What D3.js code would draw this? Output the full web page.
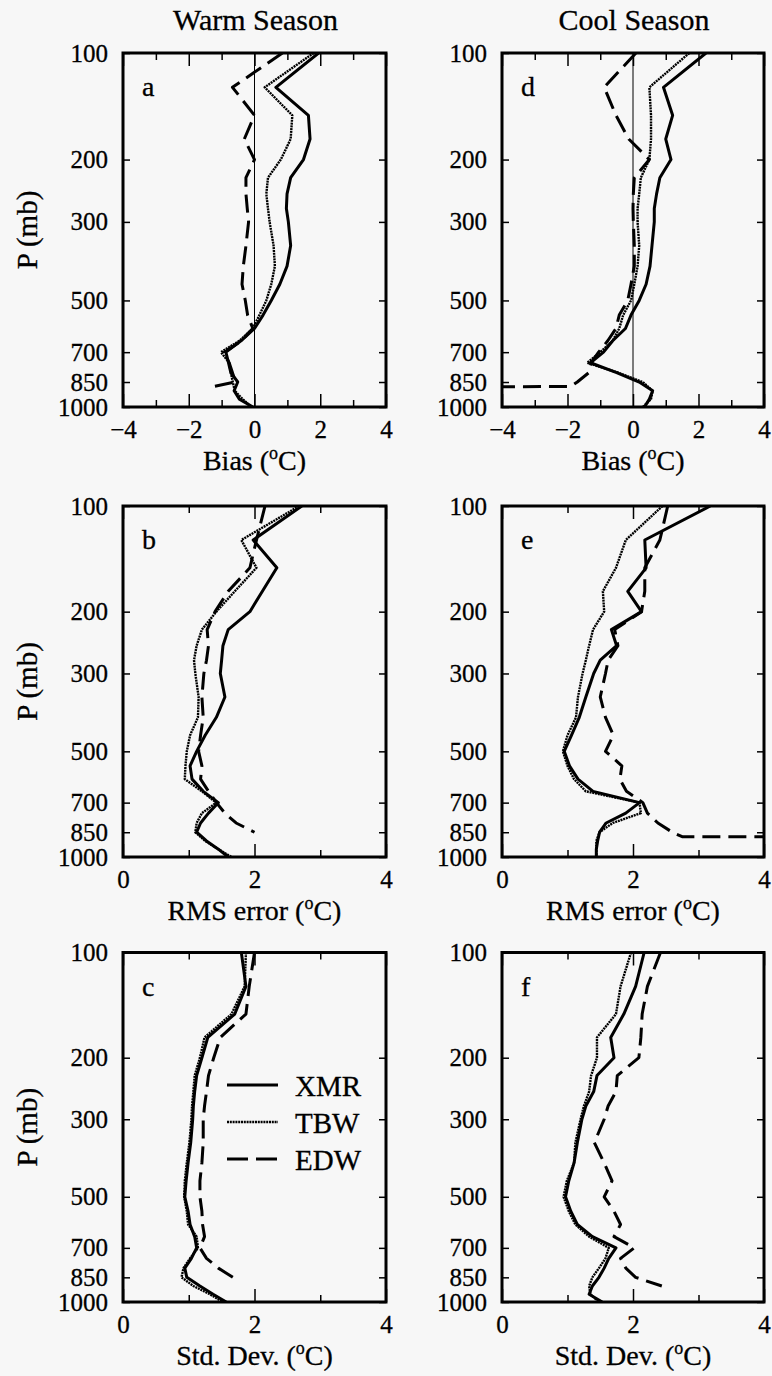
<!DOCTYPE html>
<html><head><meta charset="utf-8">
<script src="https://cdn.jsdelivr.net/npm/d3@7"></script>
<style>
html,body{margin:0;padding:0;background:#f7f7f7;}
svg{display:block;}
text{font-family:"Liberation Serif","Times New Roman",serif;fill:#000;stroke:#000;stroke-width:0.3px;}
</style></head>
<body>
<svg id="chart" width="772" height="1376"></svg>
<script>
// ---------------- data ----------------
const levels = [100,125,150,175,200,225,250,275,300,350,400,450,500,550,600,650,700,750,800,850,875,900,950,1000];
const pTicks = [100,200,300,500,700,850,1000];
const seriesNames = ["XMR","TBW","EDW"];
const columnTitles = ["Warm Season","Cool Season"];
const xLabels = ["Bias","RMS error","Std. Dev."];
const panelLetters = ["a","b","c","d","e","f"];

// (a) Warm season bias
const aXMR = [1.95,0.65,1.64,1.69,1.49,1.1,0.99,0.97,1.03,1.1,0.99,0.77,0.51,0.26,0,-0.41,-0.87,-0.79,-0.72,-0.51,null,-0.62,-0.46,-0.05];
const aTBW = [1.8,0.31,1.15,1.1,0.8,0.41,0.36,0.41,0.46,0.58,0.62,0.51,0.36,0.15,-0.05,-0.46,-1.02,-0.77,-0.72,-0.66,null,-0.6,-0.36,-0.1];
const aEDW = [0.85,-0.67,0,-0.31,0,-0.26,-0.26,-0.22,-0.18,-0.26,-0.34,-0.38,-0.28,-0.21,-0.05,-0.4,-0.92,-0.77,-0.67,-0.58,-1.25,null,null,null];
// (b) Warm season RMS error
const bXMR = [2.72,1.98,2.34,2.12,1.93,1.6,1.52,1.5,1.48,1.55,1.42,1.25,1.12,1.02,1.05,1.22,1.45,1.3,1.18,1.12,null,1.27,1.45,1.6];
const bTBW = [2.68,1.8,2.03,1.7,1.42,1.2,1.12,1.08,1.1,1.15,1.14,1.02,0.97,0.95,0.94,1.2,1.42,1.2,1.12,1.1,null,1.25,1.45,1.65];
const bEDW = [2.16,2.03,1.93,1.6,1.4,1.28,1.3,1.27,1.23,1.2,1.22,1.18,1.15,1.2,1.18,1.3,1.42,1.55,1.72,2.0,null,null,null,null];
// (c) Warm season std. dev.
const cXMR = [1.8,1.87,1.7,1.29,1.2,1.12,1.09,1.07,1.06,1.03,0.99,0.96,0.94,0.99,1.02,1.09,1.12,1.04,0.94,0.97,null,1.17,1.37,1.57];
const cTBW = [1.87,1.85,1.65,1.24,1.17,1.09,1.07,1.05,1.04,1.01,0.97,0.94,0.93,0.97,0.99,1.12,1.14,1.02,0.92,0.89,null,1.07,1.32,1.52];
const cEDW = [2.0,1.92,1.87,1.48,1.38,1.3,1.27,1.24,1.22,1.22,1.2,1.17,1.17,1.2,1.21,1.24,1.17,1.27,1.45,1.67,null,null,null,null];
// (d) Cool season bias
const dXMR = [2.23,0.93,1.21,1.0,1.16,0.82,0.72,0.65,0.65,0.58,0.52,0.4,0.19,-0.06,-0.23,-0.62,-0.9,-1.3,-0.5,0.19,null,0.6,0.5,0.35];
const dTBW = [1.72,0.5,0.55,0.55,0.5,0.24,0.19,0.14,0.14,0.19,0.14,0.04,-0.06,-0.3,-0.42,-0.62,-1.0,-1.4,-0.45,0.3,null,0.6,0.55,0.3];
const dEDW = [0.09,-0.88,-0.52,-0.13,0.5,0.04,0.01,0,0.01,0.04,0.04,-0.06,-0.16,-0.42,-0.52,-0.77,-1.05,-1.28,-1.35,-1.7,-1.9,-40,null,null];
// (e) Cool season RMS error
const eXMR = [3.18,2.18,2.2,1.92,2.13,1.67,1.75,1.5,1.4,1.28,1.18,1.06,0.95,1.03,1.16,1.39,2.1,1.89,1.59,1.49,null,1.46,1.44,1.44];
const eTBW = [2.45,1.89,1.74,1.54,1.56,1.39,1.33,1.28,1.23,1.16,1.13,1.0,0.93,1.0,1.1,1.28,2.1,2.12,1.69,1.49,null,1.44,1.44,1.44];
const eEDW = [2.53,2.41,2.18,2.18,2.13,1.72,1.77,1.62,1.58,1.5,1.58,1.7,1.58,1.83,1.8,1.9,2.15,2.22,2.38,2.6,2.75,40,null,null];
// (f) Cool season std. dev.
const fXMR = [2.17,2.04,1.86,1.66,1.71,1.45,1.4,1.28,1.22,1.15,1.1,1.02,0.97,1.05,1.15,1.38,1.74,1.63,1.56,1.48,null,1.38,1.33,1.53];
const fTBW = [1.97,1.81,1.74,1.45,1.45,1.36,1.33,1.25,1.2,1.12,1.1,0.99,0.94,1.02,1.12,1.33,1.63,1.58,1.48,1.38,null,1.33,1.35,1.48];
const fEDW = [2.42,2.22,2.14,2.12,2.09,1.76,1.74,1.62,1.56,1.41,1.56,1.68,1.56,1.71,1.81,1.71,2.02,1.81,1.89,2.04,null,2.44,null,null];

const biasDomain = [-4,4], biasTicks = [-4,-2,0,2,4], biasMinor = [-3,-1,1,3];
const errDomain = [0,4], errTicks = [0,2,4], errMinor = [1,3];

// ---------------- layout ----------------
const colX = [[123,386],[502,764]];
const rowY = [[53,407],[506,857],[952.5,1302]];
const styles = {
  XMR:{dash:null, w:3},
  TBW:{dash:"2,0.8", w:2.4},
  EDW:{dash:"18,8", w:3}
};

const svg = d3.select("#chart");
const defs = svg.append("defs");

const panels = [
  {col:0,row:0,kind:0,data:[aXMR,aTBW,aEDW]},
  {col:0,row:1,kind:1,data:[bXMR,bTBW,bEDW]},
  {col:0,row:2,kind:2,data:[cXMR,cTBW,cEDW]},
  {col:1,row:0,kind:0,data:[dXMR,dTBW,dEDW]},
  {col:1,row:1,kind:1,data:[eXMR,eTBW,eEDW]},
  {col:1,row:2,kind:2,data:[fXMR,fTBW,fEDW]}
];

// column titles
columnTitles.forEach((t,i)=>{
  svg.append("text").attr("x",(colX[i][0]+colX[i][1])/2 + 1).attr("y",30)
    .attr("text-anchor","middle").attr("font-size",30).text(t);
});

panels.forEach((pn,idx)=>{
  const [x0,x1] = colX[pn.col], [y0,y1] = rowY[pn.row];
  const isBias = pn.kind===0;
  const x = d3.scaleLinear().domain(isBias?biasDomain:errDomain).range([x0,x1]);
  const y = d3.scaleLog().domain([100,1000]).range([y0,y1]);
  const g = svg.append("g");
  const cid = "clip"+idx;
  defs.append("clipPath").attr("id",cid).append("rect")
    .attr("x",x0).attr("y",y0).attr("width",x1-x0).attr("height",y1-y0);

  const major = isBias?biasTicks:errTicks, minor = isBias?biasMinor:errMinor;
  const fmt = d3.format("d");
  g.append("g").attr("transform",`translate(0,${y1})`)
    .call(d3.axisBottom(x).tickValues(major).tickSize(-13).tickPadding(13).tickFormat(fmt));
  g.append("g").attr("transform",`translate(0,${y1})`)
    .call(d3.axisBottom(x).tickValues(minor).tickSize(-7).tickFormat(""));
  g.append("g").attr("transform",`translate(0,${y0})`)
    .call(d3.axisTop(x).tickValues(major).tickSize(-13).tickFormat(""));
  g.append("g").attr("transform",`translate(0,${y0})`)
    .call(d3.axisTop(x).tickValues(minor).tickSize(-7).tickFormat(""));
  g.append("g").attr("transform",`translate(${x0},0)`)
    .call(d3.axisLeft(y).tickValues(pTicks).tickSize(-7).tickPadding(15).tickFormat(d=>String(d)));
  g.append("g").attr("transform",`translate(${x1},0)`)
    .call(d3.axisRight(y).tickValues(pTicks).tickSize(-7).tickFormat(""));
  g.selectAll(".domain").remove();
  g.selectAll(".tick line").attr("stroke","#000").attr("stroke-width",1.5);
  g.selectAll(".tick text").attr("font-family","Liberation Serif").attr("font-size",25).attr("fill","#000");
  g.selectAll("g").attr("font-family",null).attr("font-size",null);

  if (isBias) {
    g.append("line").attr("x1",x(0)).attr("x2",x(0)).attr("y1",y0).attr("y2",y1)
      .attr("stroke","#000").attr("stroke-width",1);
  }

  const line = d3.line().x(d=>x(d.v)).y(d=>y(d.p));
  pn.data.forEach((vals,si)=>{
    const pts = levels.map((p,i)=>({p:p,v:vals[i]})).filter(d=>d.v!==null);
    const st = styles[seriesNames[si]];
    g.append("path").datum(pts).attr("d",line)
      .attr("clip-path",`url(#${cid})`)
      .attr("fill","none").attr("stroke","#000")
      .attr("stroke-width",st.w).attr("stroke-linejoin","round")
      .attr("stroke-dasharray",st.dash);
  });

  g.append("rect").attr("x",x0).attr("y",y0).attr("width",x1-x0).attr("height",y1-y0)
    .attr("fill","none").attr("stroke","#000").attr("stroke-width",3);

  g.append("text").attr("x",x0+19).attr("y",y0+43).attr("font-size",28).text(panelLetters[idx]);

  const xl = g.append("text").attr("x",(x0+x1)/2).attr("y",y1+63)
    .attr("text-anchor","middle").attr("font-size",28);
  xl.append("tspan").text(xLabels[pn.kind]+" (");
  xl.append("tspan").attr("font-size",18).attr("dy",-11).text("o");
  xl.append("tspan").attr("dy",11).text("C)");

  if (pn.col===0) {
    g.append("text").attr("transform",`translate(37,${(y0+y1)/2}) rotate(-90)`)
      .attr("text-anchor","middle").attr("font-size",29).text("P (mb)");
  }

  if (idx===2) {
    const ly = [1085,1122,1159];
    seriesNames.forEach((nm,i)=>{
      const st = styles[nm];
      g.append("line").attr("x1",227).attr("x2",278).attr("y1",ly[i]).attr("y2",ly[i])
        .attr("stroke","#000").attr("stroke-width",st.w).attr("stroke-dasharray",nm==="EDW"?"21,8":st.dash);
      g.append("text").attr("x",295).attr("y",ly[i]+11).attr("font-size",29).text(nm);
    });
  }
});
</script>
</body></html>
